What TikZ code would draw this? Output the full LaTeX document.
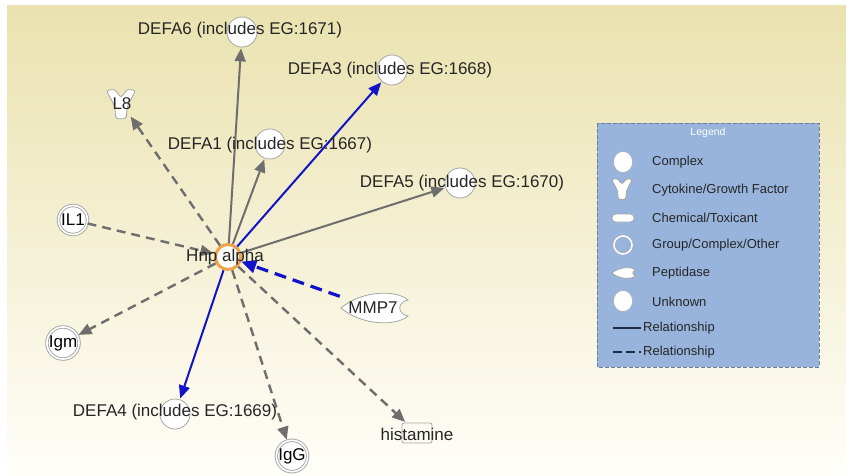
\documentclass[tikz,border=0pt]{standalone}
\usepackage{fontspec}
\setmainfont{Liberation Sans}
\usetikzlibrary{positioning,arrows.meta,shapes.geometric}

\definecolor{bgtop}{HTML}{EAE2AF}
\definecolor{bgmid}{HTML}{F4EFD0}
\definecolor{bgbot}{HTML}{FFFEF9}
\definecolor{edgegray}{HTML}{6E6E6E}
\definecolor{edgeblue}{HTML}{1212C8}
\definecolor{ringorange}{HTML}{EFA24A}
\definecolor{legendblue}{HTML}{98B4DC}
\definecolor{legendline}{HTML}{1F2C48}
\definecolor{shapegray}{HTML}{A5A5A5}

% custom molecule shapes, #1 = position, #2 = scale
\newcommand{\cytokine}[2]{%
  \draw[shapegray,fill=white,line width=0.8pt,rounded corners=2.5pt,shift={#1},scale=#2]
    (-14,-13) -- (-6,-14) -- (0,-6) -- (6,-14) -- (14,-13) -- (6,2) -- (5,14) -- (-5,14) -- (-6,2) -- cycle;}
\newcommand{\peptidase}[2]{%
  \draw[shapegray,fill=white,line width=0.8pt,shift={#1},scale=#2]
    (-34,0) .. controls (-14,-17) and (20,-19) .. (33,-8)
    .. controls (22,-6) and (22,6) .. (33,8)
    .. controls (20,19) and (-14,17) .. (-34,0) -- cycle;}

\begin{document}
\begin{tikzpicture}[x=1pt,y=-1pt,
    lbl/.style={font=\fontsize{17}{19}\selectfont,text=black!85,inner sep=0pt},
    complexnode/.style={draw=shapegray,circle,fill=white,line width=0.8pt,minimum size=30pt,inner sep=0pt},
    groupnode/.style={draw=shapegray,double=white,double distance=1.6pt,circle,fill=white,line width=0.9pt,minimum size=29pt,inner sep=0pt,font=\fontsize{17}{19}\selectfont},
    solidgray/.style={edgegray,line width=2pt,-{Triangle[length=13pt,width=11pt]},shorten >=1pt},
    solidblue/.style={edgeblue,line width=2pt,-{Triangle[length=13pt,width=11pt]},shorten >=1pt},
    dashgray/.style={edgegray,line width=2.4pt,dash pattern=on 9pt off 6pt,-{Triangle[length=13pt,width=11pt]},shorten >=1pt},
    dashblue/.style={edgeblue,line width=3.2pt,dash pattern=on 12pt off 7pt,-{Triangle[length=15pt,width=13pt]}},
    legtext/.style={font=\fontsize{13}{15}\selectfont,text=black!85,anchor=west,inner sep=0pt}]

    \useasboundingbox (0,0) rectangle (846,476);
    \fill[white] (0,0) rectangle (846,476);
    \shade[top color=bgtop,middle color=bgmid,bottom color=bgbot] (7,6) rectangle (846,476);

    % legend
    \draw[legendblue!70!black,fill=legendblue,line width=0.9pt,dash pattern=on 4pt off 2pt] (597,123) rectangle (819,367);
    \node [font=\fontsize{10.5}{12}\selectfont,text=white] at (708,133) (legtitle){Legend};
    \node [draw=shapegray,ellipse,fill=white,minimum width=19pt,minimum height=21pt,inner sep=0pt] at (623,162) (legcomplex){};
    \node [legtext] at (652,162) (legcomplext){Complex};
    \cytokine{(622,189)}{0.75}
    \node [legtext] at (652,190) (legcytot){Cytokine/Growth Factor};
    \draw[shapegray,fill=white,rounded corners=3.5pt,line width=0.8pt] (612,214) rectangle (634,222);
    \node [legtext] at (652,218) (legchemt){Chemical/Toxicant};
    \node [draw=shapegray,double=white,double distance=1.6pt,circle,fill=legendblue,minimum size=18pt,inner sep=0pt] at (623,245) (leggroup){};
    \node [legtext] at (652,245) (leggroupt){Group/Complex/Other};
    \peptidase{(624,273)}{0.36}
    \node [legtext] at (652,273) (legpeptt){Peptidase};
    \node [draw=shapegray,ellipse,fill=white,minimum width=19pt,minimum height=21pt,inner sep=0pt] at (623,301) (legunknown){};
    \node [legtext] at (652,302) (legunknownt){Unknown};
    \draw[legendline,line width=2.5pt] (613,328) -- (641,328);
    \node [legtext] at (643,328) (legsolidt){Relationship};
    \draw[legendline,line width=2.5pt,dash pattern=on 9pt off 4pt] (613,352) -- (641,352);
    \node [legtext] at (643,352) (legdasht){Relationship};

    % molecules
    \node [complexnode] at (242,32) (defa6){};
    \node [complexnode] at (392,70) (defa3){};
    \node [complexnode] at (270,144) (defa1){};
    \node [complexnode] at (460,183) (defa5){};
    \node [complexnode] at (175,414) (defa4){};
    \node [groupnode] at (73,220) (il1){IL1};
    \node [groupnode] at (63,343) (igm){Igm};
    \node [groupnode] at (292,456) (igg){IgG};
    \cytokine{(121,104)}{1.05}
    \node [circle,minimum size=28pt,inner sep=0pt,lbl] at (122,104) (l8){L8};
    \peptidase{(375,308)}{1}
    \node [minimum width=66pt,minimum height=26pt,inner sep=0pt,lbl] at (373,308) (mmp7){MMP7};
    \node [draw=shapegray,rounded corners=2pt,line width=0.8pt,minimum width=30pt,minimum height=20pt,inner sep=0pt] at (417,433) (histamine){};
    \node [draw=ringorange,circle,fill=white,line width=3pt,minimum size=25pt,inner sep=0pt] at (228,257) (hnp){};

    % relationships
    \draw [solidgray] (hnp) -- (defa6);
    \draw [solidgray] (hnp) -- (defa1);
    \draw [solidblue] (hnp) -- (defa3);
    \draw [solidgray] (hnp) -- (defa5);
    \draw [dashgray] (hnp) -- (l8);
    \draw [dashgray] (il1) -- (hnp);
    \draw [dashblue] (mmp7) -- (hnp);
    \draw [dashgray] (hnp) -- (igm);
    \draw [solidblue] (hnp) -- (defa4);
    \draw [dashgray] (hnp) -- (igg);
    \draw [dashgray] (hnp) -- (histamine);

    % labels
    \node [lbl] at (240,30) (defa6lbl){DEFA6 (includes EG:1671)};
    \node [lbl] at (390,70) (defa3lbl){DEFA3 (includes EG:1668)};
    \node [lbl] at (270,145) (defa1lbl){DEFA1 (includes EG:1667)};
    \node [lbl] at (462,183) (defa5lbl){DEFA5 (includes EG:1670)};
    \node [lbl] at (175,412) (defa4lbl){DEFA4 (includes EG:1669)};
    \node [lbl] at (225,257) (hnplbl){Hnp alpha};
    \node [lbl] at (417,434) (histaminelbl){histamine};
\end{tikzpicture}
\end{document}
